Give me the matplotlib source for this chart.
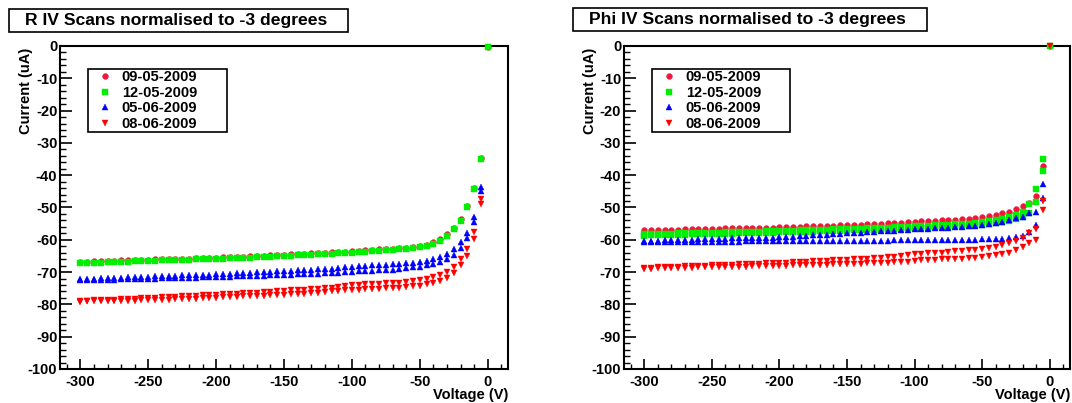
import numpy as np
import matplotlib
matplotlib.use("Agg")
import matplotlib.pyplot as plt
from matplotlib.patches import Rectangle
from matplotlib.ticker import MultipleLocator

plt.rcParams['font.family'] = ['Liberation Sans', 'DejaVu Sans']
plt.rcParams['font.weight'] = 'bold'
plt.rcParams['font.size'] = 10.5
plt.rcParams['axes.unicode_minus'] = False

dates = ['09-05-2009', '12-05-2009', '05-06-2009', '08-06-2009']
voltage = np.arange(-300, 1, 5)   # -300 ... 0 V in 5 V steps (61 points)
nan = np.nan

# ---- R sensor (uA) ----
r_0905 = [-66.9, -66.8, -66.7, -66.7, -66.6, -66.5, -66.4, -66.4, -66.3, -66.2,
          -66.2, -66.1, -66.0, -65.9, -65.9, -65.8, -65.8, -65.7, -65.6, -65.6,
          -65.5, -65.4, -65.3, -65.2, -65.2, -65.1, -65.0, -64.9, -64.8, -64.7,
          -64.6, -64.5, -64.4, -64.3, -64.2, -64.1, -64.0, -63.9, -63.8, -63.7,
          -63.6, -63.5, -63.3, -63.2, -63.0, -62.9, -62.7, -62.6, -62.4, -62.2,
          -61.9, -61.5, -60.8, -59.9, -58.3, -56.4, -53.7, -49.6, -44.0, -34.6,
          -0.3]
r_1205 = [-67.3, -67.2, -67.1, -67.1, -67.0, -66.9, -66.8, -66.8, -66.7, -66.6,
          -66.6, -66.5, -66.4, -66.3, -66.3, -66.2, -66.2, -66.1, -66.0, -66.0,
          -65.9, -65.8, -65.7, -65.6, -65.6, -65.5, -65.4, -65.3, -65.2, -65.1,
          -65.0, -64.9, -64.8, -64.7, -64.6, -64.5, -64.4, -64.3, -64.2, -64.1,
          -64.0, -63.9, -63.7, -63.6, -63.4, -63.3, -63.1, -63.0, -62.8, -62.6,
          -62.3, -61.9, -61.2, -60.3, -58.7, -56.8, -54.1, -50.0, -44.4, -35.0,
          -0.4]
r_0506_a = [-72.2, -72.1, -72.0, -71.9, -71.9, -71.8, -71.7, -71.6, -71.6, -71.5,
            -71.4, -71.3, -71.3, -71.2, -71.1, -71.0, -71.0, -70.9, -70.8, -70.8,
            -70.7, -70.6, -70.5, -70.4, -70.3, -70.2, -70.1, -70.0, -69.9, -69.8,
            -69.7, -69.6, -69.5, -69.4, -69.3, -69.1, -69.0, -68.9, -68.7, -68.5,
            -68.3, -68.2, -68.1, -67.9, -67.8, -67.7, -67.6, -67.5, -67.3, -67.1,
            -66.9, -66.5, -66.0, -65.3, -64.4, -62.8, -60.8, -57.8, -53.0, -43.6,
            nan]
r_0506_b = [-72.6, -72.5, -72.5, -72.4, -72.4, -72.3, -72.2, -72.2, -72.1, -72.1,
            -72.0, -72.0, -71.9, -71.9, -71.8, -71.8, -71.7, -71.7, -71.6, -71.6,
            -71.5, -71.5, -71.4, -71.3, -71.3, -71.2, -71.2, -71.1, -71.0, -71.0,
            -70.9, -70.8, -70.7, -70.7, -70.6, -70.5, -70.4, -70.3, -70.2, -70.1,
            -69.9, -69.8, -69.7, -69.6, -69.5, -69.3, -69.2, -69.1, -68.7, -68.5,
            -68.3, -67.9, -67.5, -66.9, -66.0, -64.6, -62.4, -59.5, -54.4, -44.9,
            nan]
r_0806_a = [-78.9, -78.8, -78.7, -78.6, -78.5, -78.5, -78.4, -78.3, -78.2, -78.1,
            -78.0, -77.9, -77.8, -77.7, -77.6, -77.5, -77.4, -77.3, -77.2, -77.1,
            -77.0, -76.9, -76.8, -76.7, -76.6, -76.5, -76.4, -76.2, -76.1, -76.0,
            -75.8, -75.7, -75.6, -75.4, -75.3, -75.1, -75.0, -74.8, -74.6, -74.3,
            -74.0, -73.9, -73.8, -73.7, -73.6, -73.5, -73.4, -73.3, -73.1, -72.7,
            -72.4, -72.0, -71.5, -70.8, -70.0, -68.4, -65.8, -62.8, -57.7, -47.5,
            nan]
r_0806_b = [-79.2, -79.1, -79.1, -79.0, -79.0, -78.9, -78.9, -78.8, -78.8, -78.7,
            -78.7, -78.6, -78.5, -78.5, -78.4, -78.3, -78.3, -78.2, -78.1, -78.0,
            -77.9, -77.8, -77.7, -77.6, -77.5, -77.5, -77.4, -77.3, -77.2, -77.1,
            -77.0, -76.9, -76.8, -76.7, -76.5, -76.4, -76.2, -76.0, -75.9, -75.7,
            -75.5, -75.4, -75.3, -75.2, -75.1, -75.0, -74.9, -74.8, -74.6, -74.3,
            -74.2, -73.8, -73.3, -72.7, -71.8, -70.3, -67.7, -64.9, -59.7, -49.0,
            nan]

# ---- Phi sensor (uA) ----
p_0905 = [-57.1, -57.1, -57.0, -57.0, -56.9, -56.9, -56.8, -56.8, -56.7, -56.7,
          -56.6, -56.6, -56.5, -56.5, -56.4, -56.4, -56.3, -56.3, -56.2, -56.2,
          -56.1, -56.0, -56.0, -55.9, -55.8, -55.8, -55.7, -55.6, -55.6, -55.5,
          -55.5, -55.4, -55.3, -55.2, -55.1, -55.0, -54.9, -54.8, -54.7, -54.5,
          -54.4, -54.3, -54.2, -54.1, -54.0, -53.9, -53.8, -53.7, -53.6, -53.3,
          -53.0, -52.6, -52.3, -51.8, -51.3, -50.5, -49.5, -48.5, -46.5, -37.2,
          0.0]
p_1205_a = [-58.3, -58.2, -58.2, -58.1, -58.1, -58.0, -58.0, -57.9, -57.9, -57.8,
            -57.8, -57.8, -57.7, -57.7, -57.6, -57.6, -57.5, -57.5, -57.4, -57.4,
            -57.3, -57.2, -57.2, -57.1, -57.0, -57.0, -56.9, -56.9, -56.8, -56.8,
            -56.7, -56.6, -56.6, -56.5, -56.4, -56.3, -56.2, -56.1, -56.0, -55.9,
            -55.8, -55.7, -55.6, -55.5, -55.4, -55.3, -55.2, -55.1, -55.0, -54.8,
            -54.6, -54.3, -54.0, -53.6, -53.0, -52.4, -51.4, -49.0, -44.4, -35.0,
            0.0]
p_1205_b = [-58.7, -58.6, -58.6, -58.5, -58.5, -58.4, -58.4, -58.3, -58.3, -58.2,
            -58.2, -58.2, -58.1, -58.1, -58.0, -58.0, -57.9, -57.9, -57.8, -57.8,
            -57.7, -57.7, -57.6, -57.6, -57.5, -57.5, -57.4, -57.4, -57.3, -57.3,
            -57.2, -57.1, -57.1, -57.0, -56.9, -56.9, -56.8, -56.7, -56.6, -56.5,
            -56.4, -56.3, -56.2, -56.1, -56.0, -55.9, -55.8, -55.7, -55.6, -55.5,
            -55.3, -55.1, -54.9, -54.6, -54.2, -53.6, -53.0, -51.8, -48.2, -38.6,
            nan]
p_0506_a = [-60.4, -60.3, -60.3, -60.2, -60.2, -60.1, -60.0, -60.0, -59.9, -59.9,
            -59.8, -59.7, -59.7, -59.6, -59.5, -59.5, -59.4, -59.4, -59.3, -59.3,
            -59.2, -59.1, -59.0, -58.8, -58.7, -58.6, -58.5, -58.4, -58.2, -58.1,
            -58.0, -57.9, -57.8, -57.6, -57.5, -57.4, -57.3, -57.2, -57.0, -56.9,
            -56.8, -56.7, -56.6, -56.5, -56.4, -56.3, -56.1, -56.0, -55.8, -55.7,
            -55.5, -55.2, -54.8, -54.4, -54.0, -53.4, -52.8, -51.8, -51.4, -42.6,
            nan]
p_0506_b = [-60.7, -60.7, -60.6, -60.6, -60.6, -60.6, -60.6, -60.6, -60.6, -60.6,
            -60.6, -60.6, -60.6, -60.6, -60.6, -60.5, -60.5, -60.5, -60.5, -60.5,
            -60.5, -60.5, -60.5, -60.5, -60.4, -60.4, -60.4, -60.4, -60.4, -60.4,
            -60.4, -60.4, -60.3, -60.3, -60.3, -60.3, -60.3, -60.2, -60.2, -60.2,
            -60.1, -60.1, -60.1, -60.1, -60.1, -60.0, -60.0, -60.0, -60.0, -60.0,
            -59.9, -59.9, -59.8, -59.7, -59.5, -59.2, -58.9, -57.5, -55.3, -47.1,
            nan]
p_0806_a = [-68.7, -68.6, -68.5, -68.4, -68.4, -68.3, -68.2, -68.1, -68.0, -68.0,
            -67.9, -67.8, -67.7, -67.7, -67.6, -67.5, -67.5, -67.4, -67.3, -67.3,
            -67.2, -67.1, -67.0, -66.9, -66.8, -66.7, -66.6, -66.5, -66.4, -66.3,
            -66.2, -66.1, -66.0, -65.9, -65.7, -65.6, -65.4, -65.2, -65.0, -64.8,
            -64.4, -64.3, -64.2, -64.1, -64.0, -63.8, -63.6, -63.5, -63.3, -63.1,
            -62.8, -62.5, -62.2, -61.6, -61.0, -60.4, -59.5, -58.0, -56.8, -48.0,
            0.0]
p_0806_b = [-68.9, -68.9, -68.8, -68.8, -68.7, -68.7, -68.6, -68.6, -68.5, -68.5,
            -68.5, -68.4, -68.4, -68.3, -68.3, -68.3, -68.2, -68.2, -68.1, -68.1,
            -68.0, -68.0, -67.9, -67.9, -67.8, -67.8, -67.7, -67.7, -67.6, -67.6,
            -67.5, -67.5, -67.4, -67.3, -67.3, -67.2, -67.1, -67.0, -66.9, -66.8,
            -66.5, -66.4, -66.3, -66.2, -66.1, -66.0, -65.9, -65.8, -65.6, -65.5,
            -65.3, -65.1, -64.8, -64.4, -64.0, -63.3, -62.3, -61.0, -60.1, -50.9,
            nan]

r_scans = [[r_0905], [r_1205], [r_0506_a, r_0506_b], [r_0806_a, r_0806_b]]
p_scans = [[p_0905], [p_1205_a, p_1205_b], [p_0506_a, p_0506_b], [p_0806_a, p_0806_b]]

markers = ['o', 's', '^', 'v']
colors = ['#f5143c', '#00ee00', '#0000ff', '#ff0000']
msizes = [4.2, 4.6, 4.4, 4.4]

fig = plt.figure(figsize=(10.72, 4.03), dpi=100)
ax_r = fig.add_axes([0.0560, 0.0844, 0.4179, 0.8015])
ax_p = fig.add_axes([0.5821, 0.0844, 0.4160, 0.8015])


def draw_panel(ax, scans):
    for label, sweeps, m, c, ms in zip(dates, scans, markers, colors, msizes):
        x = np.concatenate([voltage] * len(sweeps))
        y = np.concatenate([np.asarray(s, dtype=float) for s in sweeps])
        ax.plot(x, y, ls='none', marker=m, ms=ms, color=c, mec=c, mew=0.3,
                label=label, clip_on=False, zorder=3)
    ax.set_xlim(-315, 15)
    ax.set_ylim(-100, 0)
    ax.xaxis.set_major_locator(MultipleLocator(50))
    ax.xaxis.set_minor_locator(MultipleLocator(10))
    ax.yaxis.set_major_locator(MultipleLocator(10))
    ax.yaxis.set_minor_locator(MultipleLocator(2))
    ax.tick_params(axis='x', which='major', direction='in', length=7.2, width=1.2, pad=4)
    ax.tick_params(axis='x', which='minor', direction='in', length=3.6, width=1.0)
    ax.tick_params(axis='y', which='major', direction='in', length=8.6, width=1.2, pad=2)
    ax.tick_params(axis='y', which='minor', direction='in', length=4.3, width=1.0)
    ax.tick_params(labelsize=10.5)
    for sp in ax.spines.values():
        sp.set_linewidth(1.5)
    ax.text(1.0, -26 / 323, 'Voltage (V)', transform=ax.transAxes,
            ha='right', va='center', fontsize=10.5, fontweight='bold')
    ax.text(-34 / 448, 1 - 2 / 323, 'Current (uA)', transform=ax.transAxes,
            rotation=90, ha='center', va='top', fontsize=10.5, fontweight='bold')
    leg = ax.legend(loc='upper left', bbox_to_anchor=(0.0625, 0.735, 0.3103, 0.195),
                    mode='expand', fancybox=False, framealpha=1, edgecolor='black',
                    fontsize=10.5, borderpad=0.12, labelspacing=0.1,
                    handlelength=2.15, handletextpad=0.05, borderaxespad=0)
    leg.get_frame().set_linewidth(1.2)


draw_panel(ax_r, r_scans)
draw_panel(ax_p, p_scans)

# title boxes
titles = ['R IV Scans normalised to -3 degrees', 'Phi IV Scans normalised to -3 degrees']
boxes = [(9, 9, 348, 32), (573, 8, 927, 31)]
for t, (x0, y0, x1, y1) in zip(titles, boxes):
    fig.add_artist(Rectangle((x0 / 1072, 1 - y1 / 403), (x1 - x0) / 1072, (y1 - y0) / 403,
                             transform=fig.transFigure, facecolor='white',
                             edgecolor='black', lw=1.2))
    fig.text((x0 + x1) / 2 / 1072 - 0.002, 1 - (y0 + y1) / 2 / 403, t,
             ha='center', va='center', fontsize=12.6, fontweight='bold')

fig.savefig('out.png', dpi=100)
